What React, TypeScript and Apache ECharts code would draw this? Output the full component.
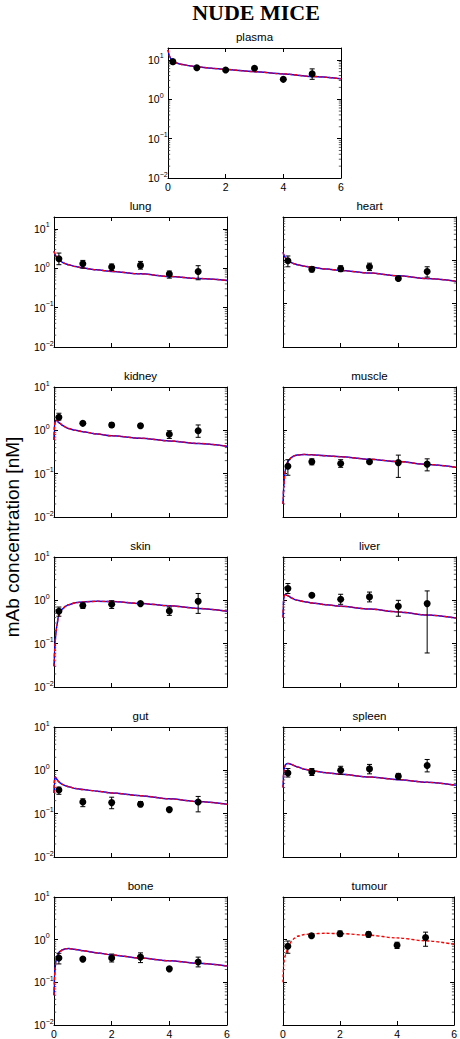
import React, { useEffect, useRef } from "react";
import * as echarts from "echarts";

// ---------- data ----------
const PANEL_NAMES = ["plasma", "lung", "heart", "kidney", "muscle", "skin", "liver", "gut", "spleen", "bone", "tumour"];
const Y_MAX = [20, 20, 10, 10, 10, 10, 10, 10, 10, 10, 10];

const T_MODEL = [0, 0.01, 0.02, 0.04, 0.06, 0.08, 0.1, 0.15, 0.2, 0.3, 0.4, 0.5, 0.75, 1, 1.5, 2, 3, 4, 5, 6];
const T_OBS = [0.17, 1, 2, 3, 4, 5];

const MODEL_PLASMA = [18, 16.5, 15.2, 13.2, 12, 11.2, 10.6, 9.6, 9.0, 8.3, 7.9, 7.6, 7.1, 6.7, 6.15, 5.7, 5.0, 4.4, 3.8, 3.3];
const MODEL_LUNG = [2.7, 2.55, 2.42, 2.22, 2.07, 1.95, 1.86, 1.68, 1.56, 1.4, 1.3, 1.23, 1.1, 1.01, 0.91, 0.83, 0.72, 0.62, 0.55, 0.49];
const MODEL_HEART = [1.52, 1.45, 1.38, 1.28, 1.21, 1.15, 1.1, 1.02, 0.96, 0.88, 0.83, 0.79, 0.73, 0.69, 0.63, 0.58, 0.51, 0.44, 0.38, 0.33];
const MODEL_KIDNEY = [0.6, 1.0, 1.3, 1.6, 1.7, 1.72, 1.68, 1.55, 1.45, 1.3, 1.18, 1.1, 1.0, 0.93, 0.82, 0.75, 0.66, 0.57, 0.5, 0.43];
const MODEL_MUSCLE = [0.02, 0.03, 0.045, 0.07, 0.095, 0.12, 0.14, 0.18, 0.205, 0.24, 0.26, 0.27, 0.278, 0.272, 0.258, 0.245, 0.215, 0.19, 0.163, 0.14];
const MODEL_SKIN = [0.03, 0.045, 0.065, 0.11, 0.16, 0.21, 0.26, 0.42, 0.52, 0.64, 0.73, 0.79, 0.88, 0.92, 0.95, 0.94, 0.85, 0.75, 0.65, 0.56];
const MODEL_LIVER = [0.4, 0.75, 1.0, 1.25, 1.35, 1.38, 1.37, 1.3, 1.24, 1.13, 1.05, 1.0, 0.93, 0.87, 0.79, 0.73, 0.63, 0.54, 0.46, 0.39];
const MODEL_GUT = [0.3, 0.5, 0.62, 0.7, 0.68, 0.65, 0.62, 0.56, 0.52, 0.47, 0.44, 0.42, 0.38, 0.36, 0.33, 0.3, 0.26, 0.22, 0.19, 0.165];
const MODEL_SPLEEN = [0.4, 0.6, 0.8, 1.05, 1.22, 1.32, 1.38, 1.43, 1.43, 1.37, 1.28, 1.2, 1.06, 0.98, 0.88, 0.81, 0.7, 0.61, 0.53, 0.45];
const MODEL_BONE = [0.05, 0.09, 0.14, 0.22, 0.29, 0.35, 0.4, 0.48, 0.53, 0.58, 0.61, 0.62, 0.59, 0.55, 0.49, 0.44, 0.37, 0.32, 0.28, 0.24];
const MODEL_TUMOUR = [0.1, 0.17, 0.24, 0.33, 0.38, 0.42, 0.47, 0.58, 0.72, 0.92, 1.08, 1.2, 1.32, 1.38, 1.41, 1.39, 1.27, 1.1, 0.94, 0.78];

const OBS_PLASMA = [9.0, 6.3, 5.5, 6.1, 3.2, 4.4];
const LO_PLASMA = [7.9, 5.9, 5.1, 5.7, 3.0, 3.2];
const HI_PLASMA = [10.3, 6.8, 6.0, 6.6, 3.4, 5.9];
const OBS_LUNG = [1.74, 1.3, 1.07, 1.18, 0.71, 0.83];
const LO_LUNG = [1.23, 1.01, 0.88, 0.95, 0.56, 0.51];
const HI_LUNG = [2.43, 1.58, 1.28, 1.49, 0.85, 1.16];
const OBS_HEART = [0.98, 0.62, 0.64, 0.71, 0.38, 0.55];
const LO_HEART = [0.71, 0.54, 0.55, 0.58, 0.35, 0.41];
const HI_HEART = [1.26, 0.71, 0.75, 0.86, 0.41, 0.71];
const OBS_KIDNEY = [2.0, 1.45, 1.33, 1.28, 0.81, 0.98];
const LO_KIDNEY = [1.73, 1.35, 1.17, 1.15, 0.65, 0.69];
const HI_KIDNEY = [2.48, 1.55, 1.5, 1.42, 0.98, 1.33];
const OBS_MUSCLE = [0.149, 0.188, 0.172, 0.188, 0.18, 0.166];
const LO_MUSCLE = [0.092, 0.16, 0.14, 0.175, 0.082, 0.116];
const HI_MUSCLE = [0.21, 0.22, 0.21, 0.2, 0.268, 0.22];
const OBS_SKIN = [0.56, 0.76, 0.81, 0.84, 0.57, 0.95];
const LO_SKIN = [0.43, 0.65, 0.65, 0.78, 0.45, 0.5];
const HI_SKIN = [0.7, 0.87, 0.98, 0.9, 0.7, 1.44];
const OBS_LIVER = [1.87, 1.31, 1.06, 1.2, 0.73, 0.84];
const LO_LIVER = [1.44, 1.22, 0.81, 0.92, 0.43, 0.061];
const HI_LIVER = [2.44, 1.4, 1.38, 1.55, 1.0, 1.65];
const OBS_GUT = [0.35, 0.186, 0.18, 0.165, 0.124, 0.186];
const LO_GUT = [0.28, 0.145, 0.13, 0.145, 0.115, 0.11];
const HI_GUT = [0.41, 0.22, 0.24, 0.19, 0.133, 0.25];
const OBS_SPLEEN = [0.87, 0.92, 1.0, 1.08, 0.73, 1.29];
const LO_SPLEEN = [0.7, 0.76, 0.81, 0.83, 0.62, 0.92];
const HI_SPLEEN = [1.1, 1.1, 1.24, 1.37, 0.85, 1.78];
const OBS_BONE = [0.37, 0.35, 0.37, 0.39, 0.207, 0.3];
const LO_BONE = [0.27, 0.32, 0.3, 0.29, 0.195, 0.23];
const HI_BONE = [0.48, 0.38, 0.46, 0.49, 0.22, 0.39];
const OBS_TUMOUR = [0.7, 1.24, 1.38, 1.33, 0.74, 1.12];
const LO_TUMOUR = [0.48, 1.12, 1.2, 1.15, 0.62, 0.7];
const HI_TUMOUR = [0.93, 1.36, 1.6, 1.52, 0.87, 1.5];

const MINOR_Y_TICKS = [0.02, 0.03, 0.04, 0.05, 0.06, 0.07, 0.08, 0.09, 0.2, 0.3, 0.4, 0.5, 0.6, 0.7, 0.8, 0.9, 2, 3, 4, 5, 6, 7, 8, 9];

const TITLE = "NUDE MICE";
const Y_LABEL = "mAb concentration [nM]";

const MODEL: Record<string, number[]> = {
  plasma: MODEL_PLASMA, lung: MODEL_LUNG, heart: MODEL_HEART, kidney: MODEL_KIDNEY, muscle: MODEL_MUSCLE,
  skin: MODEL_SKIN, liver: MODEL_LIVER, gut: MODEL_GUT, spleen: MODEL_SPLEEN, bone: MODEL_BONE, tumour: MODEL_TUMOUR,
};
const OBS: Record<string, number[][]> = {
  plasma: [OBS_PLASMA, LO_PLASMA, HI_PLASMA], lung: [OBS_LUNG, LO_LUNG, HI_LUNG], heart: [OBS_HEART, LO_HEART, HI_HEART],
  kidney: [OBS_KIDNEY, LO_KIDNEY, HI_KIDNEY], muscle: [OBS_MUSCLE, LO_MUSCLE, HI_MUSCLE], skin: [OBS_SKIN, LO_SKIN, HI_SKIN],
  liver: [OBS_LIVER, LO_LIVER, HI_LIVER], gut: [OBS_GUT, LO_GUT, HI_GUT], spleen: [OBS_SPLEEN, LO_SPLEEN, HI_SPLEEN],
  bone: [OBS_BONE, LO_BONE, HI_BONE], tumour: [OBS_TUMOUR, LO_TUMOUR, HI_TUMOUR],
};
const NO_BLUE = ["tumour"];

// ---------- layout ----------
const W = 460;
const H = 1039;
const FONT = "'Liberation Sans', Arial, Helvetica, sans-serif";
const BOX_W = 173;
const BOX_H = 130;
const COL_LEFT = [54, 283];
const CENTER_LEFT = 168;
const TOP_FIRST = 48;
const ROW_TOP0 = 217;
const ROW_STEP = 170;

function panelRect(i: number) {
  if (i === 0) return { left: CENTER_LEFT, top: TOP_FIRST };
  const r = Math.floor((i - 1) / 2);
  const c = (i - 1) % 2;
  return { left: COL_LEFT[c], top: ROW_TOP0 + r * ROW_STEP };
}

function supLabel(v: number) {
  const lg = Math.log10(v);
  const e = Math.round(lg);
  if (Math.abs(lg - e) > 1e-6) return "";
  const es = e < 0 ? "\u2212" + String(-e) : String(e);
  return "{b|10}{s|" + es + "}";
}

function buildOption() {
  const grid: any[] = [];
  const xAxis: any[] = [];
  const yAxis: any[] = [];
  const series: any[] = [];
  const graphic: any[] = [];

  const tickStyle = { color: "#000", width: 1 };

  PANEL_NAMES.forEach((name, i) => {
    const rect = panelRect(i);
    const isBottom = i === 0 || i >= 9;
    const isLeft = i === 0 || i % 2 === 1;
    grid.push({ left: rect.left, top: rect.top, width: BOX_W, height: BOX_H, show: false, containLabel: false });

    const xBase = {
      gridIndex: i, type: "value", min: 0, max: 6, interval: 2,
      axisLine: { show: true, onZero: false, lineStyle: { color: "#000", width: 1 } },
      axisTick: { show: true, inside: true, length: 4, lineStyle: tickStyle },
      splitLine: { show: false },
    };
    xAxis.push({
      ...xBase, position: "bottom",
      axisLabel: { show: isBottom, fontSize: 10.5, color: "#000", fontFamily: FONT, margin: 3,
        showMinLabel: true, showMaxLabel: true },
    });
    xAxis.push({ ...xBase, position: "top", axisLabel: { show: false } });

    const yBase = {
      gridIndex: i, type: "log", logBase: 10, min: 0.01, max: Y_MAX[i],
      axisLine: { show: true, onZero: false, lineStyle: { color: "#000", width: 1 } },
      axisTick: { show: true, inside: true, length: 4, lineStyle: tickStyle },
      splitLine: { show: false },
    };
    yAxis.push({
      ...yBase, position: "left",
      axisLabel: {
        show: isLeft, align: "left", margin: 20, color: "#000", formatter: supLabel,
        showMinLabel: true, showMaxLabel: true,
        rich: {
          b: { fontSize: 10.5, fontFamily: FONT, color: "#000", lineHeight: 16 },
          s: { fontSize: 7, fontFamily: FONT, color: "#000", lineHeight: 8, padding: [0, 0, 8, 0] },
        },
      },
    });
    yAxis.push({ ...yBase, position: "right", axisLabel: { show: false } });

    const ax = { xAxisIndex: 2 * i, yAxisIndex: 2 * i };
    const model = MODEL[name];
    const lineData = T_MODEL.map((t, k) => [t, model[k]]);
    if (!NO_BLUE.includes(name)) {
      series.push({
        type: "line", ...ax, data: lineData, showSymbol: false, symbol: "none", smooth: 0.3, smoothMonotone: "x",
        lineStyle: { color: "#0000ff", width: 1.5 }, z: 2, silent: true,
      });
    }
    series.push({
      type: "line", ...ax, data: lineData, showSymbol: false, symbol: "none", smooth: 0.3, smoothMonotone: "x",
      lineStyle: { color: "#ff0000", width: 1.4, type: [3, 2] }, z: 3, silent: true,
    });

    const [mean, lo, hi] = OBS[name];
    series.push({
      type: "custom", ...ax, z: 4, silent: true,
      data: T_OBS.map((t, k) => [t, lo[k], hi[k]]),
      encode: { x: 0, y: [1, 2] },
      renderItem: (params: any, api: any) => {
        const p1 = api.coord([api.value(0), api.value(1)]);
        const p2 = api.coord([api.value(0), api.value(2)]);
        const cw = 2.5;
        const style = { stroke: "#000", lineWidth: 1 };
        return {
          type: "group",
          children: [
            { type: "line", shape: { x1: p1[0], y1: p1[1], x2: p2[0], y2: p2[1] }, style },
            { type: "line", shape: { x1: p1[0] - cw, y1: p1[1], x2: p1[0] + cw, y2: p1[1] }, style },
            { type: "line", shape: { x1: p2[0] - cw, y1: p2[1], x2: p2[0] + cw, y2: p2[1] }, style },
          ],
        };
      },
    });
    series.push({
      type: "scatter", ...ax, z: 5, silent: true, symbol: "circle", symbolSize: 7,
      itemStyle: { color: "#000", opacity: 1 },
      data: T_OBS.map((t, k) => [t, mean[k]]),
    });
    series.push({
      type: "custom", ...ax, z: 1, silent: true,
      data: MINOR_Y_TICKS.filter((v) => v < Y_MAX[i]).map((v) => [0, v]),
      encode: { x: 0, y: 1 },
      renderItem: (params: any, api: any) => {
        const cs = params.coordSys;
        const y = api.coord([0, api.value(1)])[1];
        const style = { stroke: "#333", lineWidth: 0.8 };
        return {
          type: "group",
          children: [
            { type: "line", shape: { x1: cs.x, y1: y, x2: cs.x + 2.2, y2: y }, style },
            { type: "line", shape: { x1: cs.x + cs.width - 2.2, y1: y, x2: cs.x + cs.width, y2: y }, style },
          ],
        };
      },
    });

    graphic.push({
      type: "text", x: rect.left + BOX_W / 2, y: rect.top - 11.5, silent: true,
      style: { text: name, fontSize: 11.5, fontWeight: "normal", fontFamily: FONT, fill: "#000",
        align: "center", verticalAlign: "middle" },
    });
  });

  graphic.push({
    type: "text", x: 256, y: 12, silent: true,
    style: { text: TITLE, fontSize: 22, fontWeight: "bold", fontFamily: "'Liberation Serif', 'Times New Roman', serif",
      fill: "#000", align: "center", verticalAlign: "middle" },
  });
  graphic.push({
    type: "text", x: 12, y: 537, rotation: Math.PI / 2, silent: true,
    style: { text: Y_LABEL, fontSize: 19, fontWeight: "normal", fontFamily: FONT, fill: "#000",
      align: "center", verticalAlign: "middle" },
  });

  return {
    animation: false,
    backgroundColor: "#fff",
    grid, xAxis, yAxis, series, graphic,
  };
}

export default function App() {
  const ref = useRef<HTMLDivElement>(null);
  useEffect(() => {
    if (!ref.current) return;
    const chart = echarts.init(ref.current, undefined, { renderer: "svg", width: W, height: H });
    chart.setOption(buildOption() as any);
    return () => chart.dispose();
  }, []);
  return <div ref={ref} style={{ position: "absolute", left: 0, top: 0, width: W, height: H }} />;
}
